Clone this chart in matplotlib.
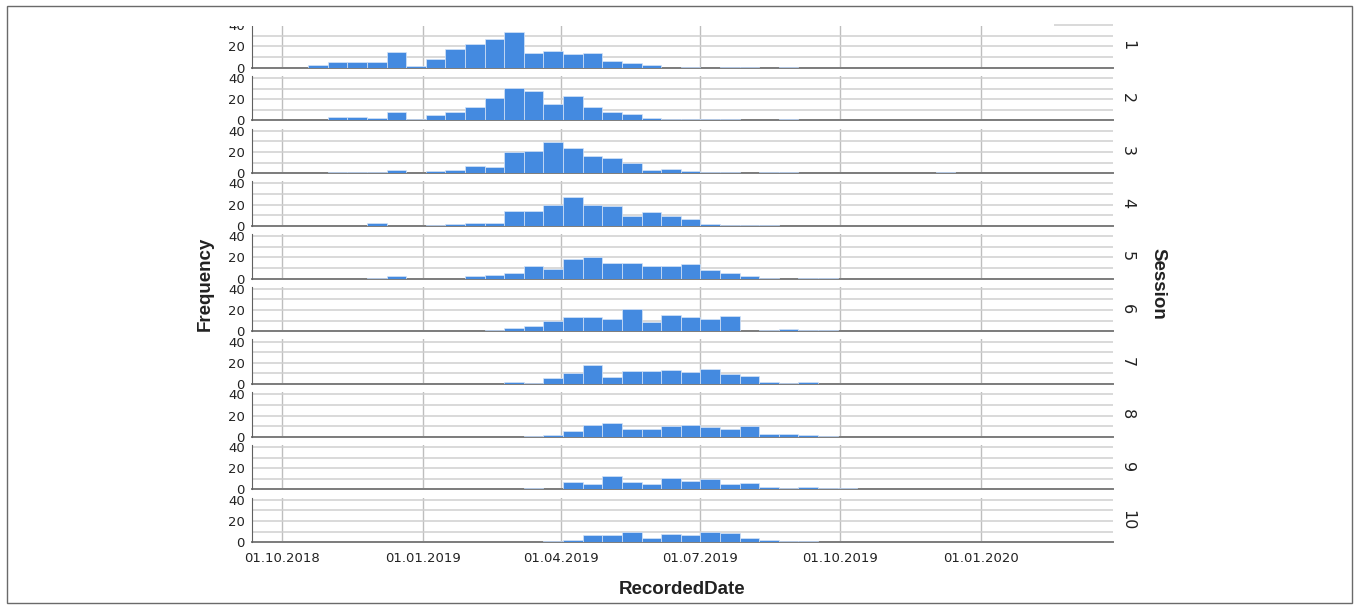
import datetime as dt
import numpy as np
import matplotlib
matplotlib.use('Agg')
import matplotlib.pyplot as plt
import matplotlib.dates as mdates
from matplotlib.patches import Rectangle

# histogram bins: SPSS picked a width of ~12.8 days starting 18.10.2018
bin_start = dt.datetime(2018, 10, 18)
bin_days = 12.82

# counts per bin, one list per session
s1 = [3, 5, 5, 5, 15, 2, 8, 18, 22, 27, 34, 14, 16, 13, 14, 6, 4, 3, 0, 1, 0, 1, 1, 0, 1, 0, 0, 0, 0, 0, 0, 0, 0]
s2 = [0, 3, 3, 2, 8, 1, 5, 8, 13, 21, 31, 28, 15, 23, 13, 8, 6, 2, 1, 1, 1, 1, 0, 0, 1, 0, 0, 0, 0, 0, 0, 0, 0]
s3 = [0, 1, 1, 1, 3, 0, 2, 3, 7, 6, 20, 21, 29, 24, 16, 14, 10, 3, 4, 2, 1, 1, 0, 1, 1, 0, 0, 0, 0, 0, 0, 0, 1]
s4 = [0, 0, 0, 3, 0, 0, 1, 2, 3, 3, 14, 14, 20, 27, 20, 19, 9, 13, 9, 6, 2, 1, 1, 1, 0, 0, 0, 0, 0, 0, 0, 0, 0]
s5 = [0, 0, 0, 1, 2, 0, 0, 0, 2, 3, 5, 12, 9, 18, 20, 15, 15, 12, 12, 14, 8, 5, 2, 1, 0, 1, 1, 0, 0, 0, 0, 0, 0]
s6 = [0, 0, 0, 0, 0, 0, 0, 0, 0, 1, 3, 5, 10, 13, 13, 12, 21, 9, 15, 13, 12, 14, 0, 1, 2, 1, 1, 0, 0, 0, 0, 0, 0]
s7 = [0, 0, 0, 0, 0, 0, 0, 0, 0, 0, 2, 1, 6, 10, 18, 7, 12, 12, 13, 11, 14, 9, 8, 2, 1, 2, 0, 0, 0, 0, 0, 0, 0]
s8 = [0, 0, 0, 0, 0, 0, 0, 0, 0, 0, 0, 1, 2, 5, 11, 13, 7, 7, 10, 11, 9, 7, 10, 3, 3, 2, 1, 0, 0, 0, 0, 0, 0]
s9 = [0, 0, 0, 0, 0, 0, 0, 0, 0, 0, 0, 1, 0, 7, 5, 13, 7, 5, 11, 8, 10, 5, 6, 2, 1, 2, 1, 1, 0, 0, 0, 0, 0]
s10 = [0, 0, 0, 0, 0, 0, 0, 0, 0, 0, 0, 0, 1, 2, 7, 7, 10, 4, 8, 7, 10, 9, 4, 2, 1, 1, 0, 0, 0, 0, 0, 0, 0]

sessions = [s1, s2, s3, s4, s5, s6, s7, s8, s9, s10]
session_labels = ['1', '2', '3', '4', '5', '6', '7', '8', '9', '10']

x_min = dt.datetime(2018, 9, 11)
x_max = dt.datetime(2020, 3, 27, 12)

W, H = 1357, 608
fig = plt.figure(figsize=(W / 100, H / 100), dpi=100)

bar_col = '#448ae0'
lefts = mdates.date2num(bin_start) + np.arange(len(s1)) * bin_days

for i, counts in enumerate(sessions):
    base = 67.7 + 52.72 * i
    ax = fig.add_axes([251.7 / W, 1 - base / H, 861.6 / W, 44.6 / H])
    ax.set_axisbelow(True)
    counts = np.array(counts)
    keep = counts > 0
    ax.bar(lefts[keep], counts[keep], width=bin_days, align='edge',
           color=bar_col, edgecolor='#d6e4f7', linewidth=0.5, zorder=3)

    ax.set_xlim(x_min, x_max)
    ax.set_ylim(0, 42)
    ax.set_yticks([0, 20, 40])
    ax.set_yticks([10, 30], minor=True)
    ax.xaxis.set_major_locator(mdates.MonthLocator(bymonth=[1, 4, 7, 10]))
    ax.xaxis.set_major_formatter(mdates.DateFormatter('%d.%m.%Y'))
    ax.grid(axis='y', which='both', color='#d0d0d0', lw=1.1)
    ax.grid(axis='x', which='major', color='#bebebe', lw=1.0)

    for side in ['top', 'right']:
        ax.spines[side].set_visible(False)
    # baseline above the grid but under the bars so single counts still show
    ax.spines['bottom'].set_color('#7c7c7c')
    ax.spines['bottom'].set_linewidth(1.4)
    ax.spines['bottom'].set_zorder(2)
    ax.spines['left'].set_color('#606060')
    ax.spines['left'].set_linewidth(0.8)

    ax.tick_params(axis='both', which='both', length=0, labelsize=9.5,
                   colors='#222222')
    ax.tick_params(axis='y', pad=5)
    ax.tick_params(axis='x', pad=7)
    if i < len(sessions) - 1:
        ax.tick_params(axis='x', labelbottom=False)

    ax.text(1 + 14 / 861.6, 0.5, session_labels[i], transform=ax.transAxes,
            rotation=270, ha='center', va='center', fontsize=11.5,
            color='#222222')

title_font = dict(family='Liberation Sans', fontweight='bold', fontsize=13.5,
                  color='#222222', ha='center', va='center')
fig.text(205 / W, 1 - 283.5 / H, 'Frequency', rotation=90, **title_font)
fig.text(1158 / W, 1 - 283.5 / H, 'Session', rotation=270, **title_font)
fig.text(682 / W, 1 - 589 / H, 'RecordedDate', **title_font)

# white strip along the top edge and the frame round the figure
fig.add_artist(Rectangle((200 / W, 1 - 26.3 / H), 854 / W, 18.8 / H,
                         transform=fig.transFigure, facecolor='white',
                         edgecolor='none', zorder=10))
fig.add_artist(Rectangle((7 / W, 1 - 603 / H), 1344.7 / W, 597 / H,
                         transform=fig.transFigure, fill=False,
                         edgecolor='#6a6a6a', lw=1.0, zorder=11))

fig.savefig('out.png', dpi=100)
